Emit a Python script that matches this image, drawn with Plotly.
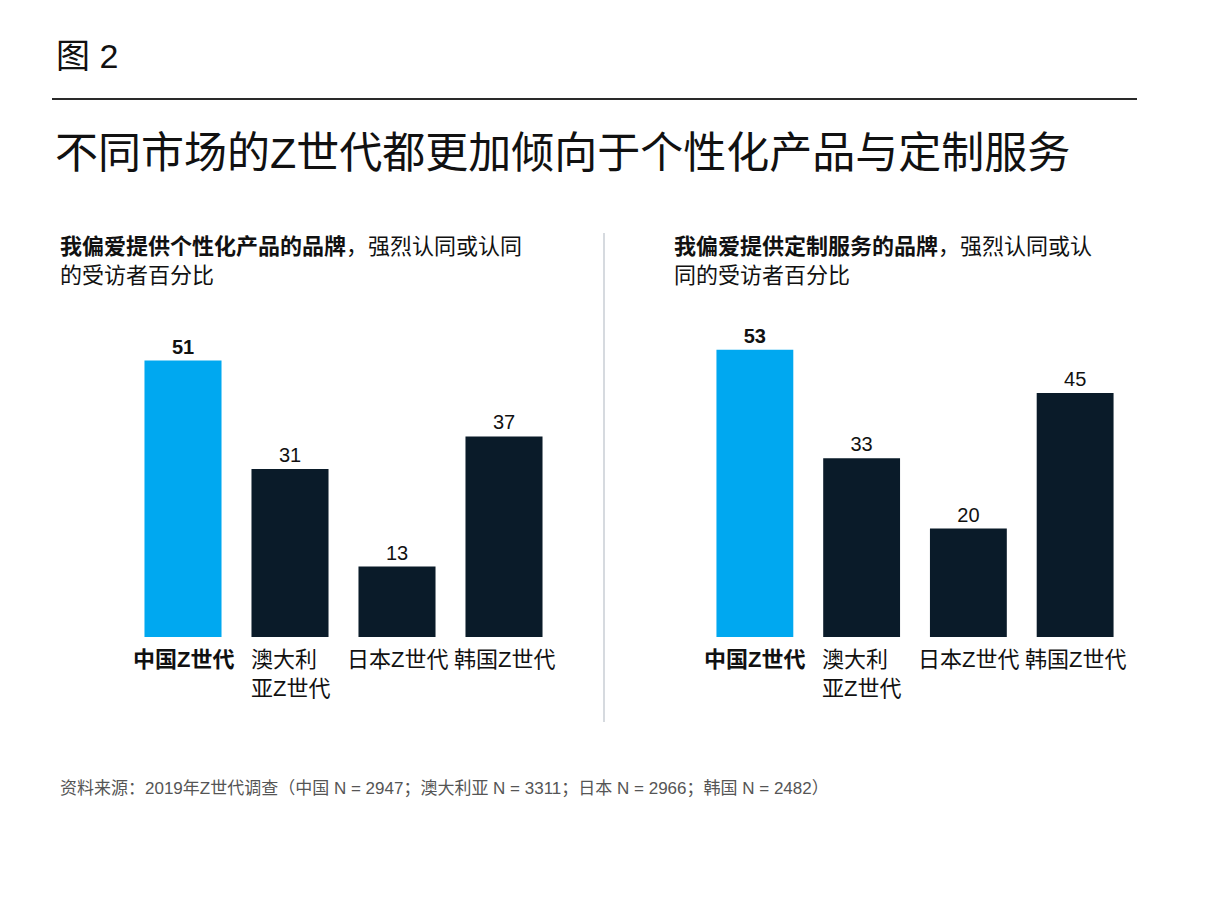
import plotly.graph_objects as go

W, H = 1218, 902

categories = ["中国Z世代", "澳大利亚Z世代", "日本Z世代", "韩国Z世代"]
cat_labels = ["<b>中国Z世代</b>", "澳大利<br>亚Z世代", "日本Z世代", "韩国Z世代"]
personalized = [51, 31, 13, 37]
customized = [53, 33, 20, 45]

fig_label = "图 2"
title = "不同市场的Z世代都更加倾向于个性化产品与定制服务"
sub_left = "<b>我偏爱提供个性化产品的品牌</b>，强烈认同或认同<br>的受访者百分比"
sub_right = "<b>我偏爱提供定制服务的品牌</b>，强烈认同或认<br>同的受访者百分比"
source = "资料来源：2019年Z世代调查（中国 N = 2947；澳大利亚 N = 3311；日本 N = 2966；韩国 N = 2482）"

BLUE = "#00A8F0"
NAVY = "#0A1B29"
FONT = "Liberation Sans, Noto Sans CJK SC, sans-serif"

def px(x):
    return x / W

def py(y):
    return 1 - y / H

colors = [BLUE, NAVY, NAVY, NAVY]

fig = go.Figure()
for vals, xa, ya in [(personalized, "x", "y"), (customized, "x2", "y2")]:
    fig.add_trace(go.Bar(
        x=categories, y=vals, xaxis=xa, yaxis=ya,
        marker=dict(color=colors, line=dict(width=0)),
        text=[f"<b>{v}</b>" if i == 0 else str(v) for i, v in enumerate(vals)],
        textposition="outside", cliponaxis=False,
        textfont=dict(family=FONT, size=20, color="#111111"),
        hoverinfo="skip", showlegend=False,
    ))

ymax = 60
base = 637
top = base - 5.42 * ymax
ydom = [py(base), py(top)]

common_x = dict(type="category", showticklabels=False, showgrid=False, zeroline=False,
                showline=False, ticks="", range=[-0.5, 3.5], fixedrange=True)
common_y = dict(range=[0, ymax], visible=False, showgrid=False, zeroline=False, domain=ydom)

fig.update_layout(
    width=W, height=H,
    margin=dict(l=0, r=0, t=0, b=0),
    paper_bgcolor="white", plot_bgcolor="white",
    bargap=0.28,
    xaxis=dict(domain=[px(129.5), px(557.5)], anchor="y", **common_x),
    yaxis=dict(anchor="x", **common_y),
    xaxis2=dict(domain=[px(701.5), px(1128.5)], anchor="y2", **common_x),
    yaxis2=dict(anchor="x2", **common_y),
    font=dict(family=FONT, color="#111111"),
)

ann = []
ann.append(dict(text=fig_label, x=px(54), y=py(56), xref="paper", yref="paper",
                xanchor="left", yanchor="middle", showarrow=False,
                font=dict(size=34, color="#111111")))
ann.append(dict(text=title, x=px(53), y=py(153), xref="paper", yref="paper",
                xanchor="left", yanchor="middle", showarrow=False,
                font=dict(size=43, color="#111111")))
for txt, x0 in [(sub_left, 58), (sub_right, 672)]:
    ann.append(dict(text=txt, x=px(x0), y=py(232), xref="paper", yref="paper",
                    xanchor="left", yanchor="top", align="left", showarrow=False,
                    font=dict(size=22, color="#111111")))
for xa in ["x", "x2"]:
    for c, lab in zip(categories, cat_labels):
        ann.append(dict(text=lab, x=c, y=py(645), xref=xa, yref="paper",
                        xanchor="center", yanchor="top", align="left", showarrow=False,
                        font=dict(size=22, color="#111111")))
ann.append(dict(text=source, x=px(58), y=py(788), xref="paper", yref="paper",
                xanchor="left", yanchor="middle", showarrow=False,
                font=dict(size=17, color="#555555")))
fig.update_layout(annotations=ann)

fig.update_layout(shapes=[
    dict(type="line", xref="paper", yref="paper", x0=px(52), x1=px(1137),
         y0=py(99), y1=py(99), line=dict(color="#2a2a2a", width=2)),
    dict(type="line", xref="paper", yref="paper", x0=px(604), x1=px(604),
         y0=py(233), y1=py(722), line=dict(color="#c9ced4", width=1.5)),
])

fig.write_html("out.html")
